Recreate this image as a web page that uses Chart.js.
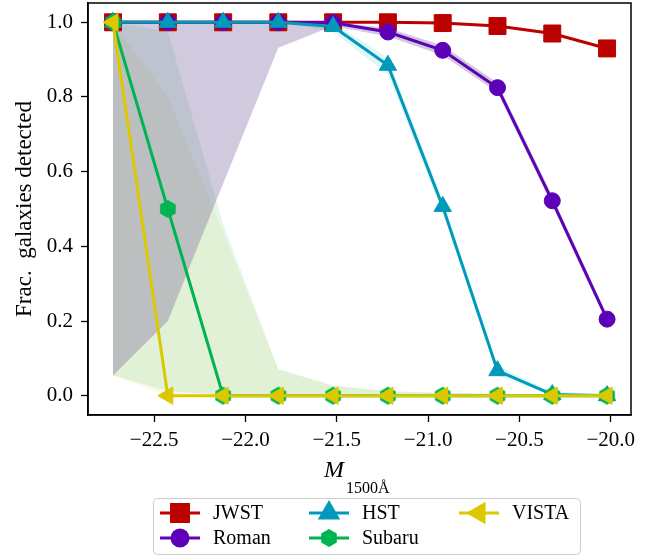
<!DOCTYPE html>
<html>
<head>
<meta charset="utf-8">
<script src="https://cdn.jsdelivr.net/npm/chart.js@4/dist/chart.umd.min.js"></script>
<style>
html, body { margin: 0; padding: 0; background: #fff; }
</style>
</head>
<body>
<canvas id="chart" width="665" height="556"></canvas>
<script>
// absolute UV magnitude bins
var mags = [-22.725, -22.425, -22.122, -21.82, -21.52, -21.22, -20.92, -20.62, -20.32, -20.02];

// fraction of galaxies detected per survey
var jwst   = [1, 1, 1, 1, 1, 1, 0.998, 0.99, 0.97, 0.93];
var roman  = [1, 1, 1, 1, 0.999, 0.974, 0.925, 0.825, 0.522, 0.205];
var hst    = [1, 1, 1, 1, 0.989, 0.885, 0.507, 0.067, 0.003, 0];
var subaru = [1, 0.5, 0, 0, 0, 0, 0, 0, 0, 0];
var vista  = [1, 0, 0, 0, 0, 0, 0, 0, 0, 0];

// shaded ranges (low / high)
var romanLo  = [0.054, 0.2, 0.568, 0.932, 0.99, 0.962, 0.912, 0.812, 0.51, 0.195];
var romanHi  = [1, 1, 1, 1, 1, 0.985, 0.938, 0.838, 0.535, 0.215];
var hstLo    = [1, 1, 1, 1, 0.975, 0.86, 0.49, 0.055, 0, 0];
var hstHi    = [1, 1, 1, 1, 1, 0.905, 0.525, 0.08, 0.01, 0.005];
var subaruLo = [0.054, 0.012, 0.002, 0, 0, 0, 0, 0, 0, 0];
var subaruHi = [1, 0.975, 0.46, 0.071, 0.027, 0.012, 0.008, 0.005, 0.003, 0.002];
var vistaLo  = [0.054, 0, 0, 0, 0, 0, 0, 0, 0, 0];
var vistaHi  = [1, 0.8, 0.44, 0.071, 0.027, 0.012, 0.008, 0.005, 0.003, 0.002];

var xTicks = [-22.5, -22.0, -21.5, -21.0, -20.5, -20.0];
var yTicks = [0.0, 0.2, 0.4, 0.6, 0.8, 1.0];

var cJWST = '#bb0000', cRoman = '#5e00b8', cHST = '#009ab8', cSubaru = '#00b451', cVISTA = '#dcc800';
var serif = '"Liberation Serif", "DejaVu Serif", serif';

function pts(ys) {
  return ys.map(function (y, i) { return { x: mags[i], y: y }; });
}

function hexMarker(r, color) {
  var s = Math.ceil(r * 2 + 2);
  var c = document.createElement('canvas');
  c.width = s; c.height = s;
  var g = c.getContext('2d');
  g.beginPath();
  for (var k = 0; k < 6; k++) {
    var a = Math.PI / 2 + k * Math.PI / 3;
    var px = s / 2 + r * Math.cos(a), py = s / 2 - r * Math.sin(a);
    if (k === 0) g.moveTo(px, py); else g.lineTo(px, py);
  }
  g.closePath();
  g.fillStyle = color;
  g.fill();
  return c;
}
var hex = hexMarker(9, cSubaru);

function series(label, ys, color, style, radius, rot, order) {
  return {
    label: label, data: pts(ys), borderColor: color, backgroundColor: color,
    borderWidth: 3, pointStyle: style, pointRadius: radius, pointRotation: rot,
    pointBackgroundColor: color, pointBorderColor: color, pointBorderWidth: 1,
    fill: false, order: order, tension: 0
  };
}
function band(ys, fillColor) {
  return {
    label: '', data: pts(ys), borderColor: 'rgba(0,0,0,0)', borderWidth: 1,
    pointRadius: 0, fill: fillColor ? '-1' : false,
    backgroundColor: fillColor || 'rgba(0,0,0,0)', order: 20
  };
}

var datasets = [
  band(romanLo), band(romanHi, 'rgba(70,40,120,0.25)'),
  band(subaruLo), band(subaruHi, 'rgba(0,180,80,0.1)'),
  band(hstLo), band(hstHi, 'rgba(60,200,220,0.16)'),
  band(vistaLo), band(vistaHi, 'rgba(220,200,0,0.1)'),
  series('JWST', jwst, cJWST, 'rect', 12, 0, 5),
  series('Roman', roman, cRoman, 'circle', 8, 0, 4),
  series('HST', hst, cHST, 'triangle', 10, 0, 3),
  series('Subaru', subaru, cSubaru, hex, 9, 0, 2),
  series('VISTA', vista, cVISTA, 'triangle', 10, -90, 1)
];

// frame, legend and x title
var extras = {
  id: 'extras',
  afterDatasetsDraw: function (chart) {
    var a = chart.chartArea, ctx = chart.ctx;
    ctx.save();
    ctx.strokeStyle = '#000';
    ctx.lineWidth = 1.5;
    ctx.strokeRect(a.left, a.top, a.right - a.left, a.bottom - a.top);
    ctx.restore();
  },
  afterDraw: function (chart) {
    var ctx = chart.ctx;
    ctx.save();
    // x axis title
    ctx.fillStyle = '#000';
    ctx.textBaseline = 'alphabetic';
    ctx.font = 'italic 24px ' + serif;
    ctx.fillText('M', 324, 477);
    ctx.font = '16px ' + serif;
    ctx.fillText('1500Å', 346, 493);

    // legend box
    var bx = 153.5, by = 498.5, bw = 427, bh = 56;
    ctx.beginPath();
    ctx.roundRect(bx, by, bw, bh, 4);
    ctx.fillStyle = 'rgba(255,255,255,0.8)';
    ctx.fill();
    ctx.strokeStyle = '#cccccc';
    ctx.lineWidth = 1;
    ctx.stroke();

    var items = [
      [8, 160, 513], [9, 160, 538], [10, 309, 513], [11, 309, 538], [12, 459, 513]
    ];
    items.forEach(function (it) {
      var ds = chart.data.datasets[it[0]], x = it[1], y = it[2];
      ctx.strokeStyle = ds.borderColor;
      ctx.lineWidth = 3;
      ctx.beginPath();
      ctx.moveTo(x, y); ctx.lineTo(x + 40, y);
      ctx.stroke();
      ctx.fillStyle = ds.pointBackgroundColor;
      ctx.strokeStyle = ds.pointBorderColor;
      Chart.helpers.drawPoint(ctx, {
        pointStyle: ds.pointStyle, rotation: ds.pointRotation,
        radius: ds.pointRadius, borderWidth: 1
      }, x + 20, y);
      ctx.fillStyle = '#000';
      ctx.font = '20px ' + serif;
      ctx.textBaseline = 'middle';
      ctx.fillText(ds.label, x + 53, y + 1);
    });
    ctx.restore();
  }
};

function fmt(v) {
  var s = Math.abs(v).toFixed(1);
  return v < 0 ? '\u2212' + s : s;
}

new Chart(document.getElementById('chart'), {
  type: 'line',
  data: { datasets: datasets },
  options: {
    responsive: false,
    animation: false,
    devicePixelRatio: 1,
    layout: { autoPadding: false, padding: { top: 3, right: 34, bottom: 0, left: 0 } },
    plugins: { legend: { display: false }, tooltip: { enabled: false } },
    scales: {
      x: {
        type: 'linear', min: -22.862, max: -19.889,
        afterBuildTicks: function (s) { s.ticks = xTicks.map(function (v) { return { value: v }; }); },
        ticks: { callback: fmt, autoSkip: false, maxRotation: 0, color: '#000', padding: 6,
                 font: { family: serif, size: 21 } },
        grid: { drawOnChartArea: false, tickLength: 7, tickColor: '#000', tickWidth: 1.3 },
        border: { color: '#000', width: 1.5 },
        afterFit: function (s) { s.height = 141; s.paddingLeft = 0; s.paddingRight = 0; }
      },
      y: {
        min: -0.0517, max: 1.0517,
        afterBuildTicks: function (s) { s.ticks = yTicks.map(function (v) { return { value: v }; }); },
        ticks: { callback: function (v) { return v.toFixed(1); }, color: '#000', padding: 8,
                 font: { family: serif, size: 21 } },
        grid: { drawOnChartArea: false, tickLength: 7, tickColor: '#000', tickWidth: 1.3 },
        border: { color: '#000', width: 1.5 },
        title: { display: true, text: 'Frac.  galaxies detected', color: '#000',
                 font: { family: serif, size: 23 }, padding: { top: 11, bottom: 0 } },
        afterFit: function (s) { s.width = 88; s.paddingTop = 0; s.paddingBottom = 0; }
      }
    }
  },
  plugins: [extras]
});
</script>
</body>
</html>
